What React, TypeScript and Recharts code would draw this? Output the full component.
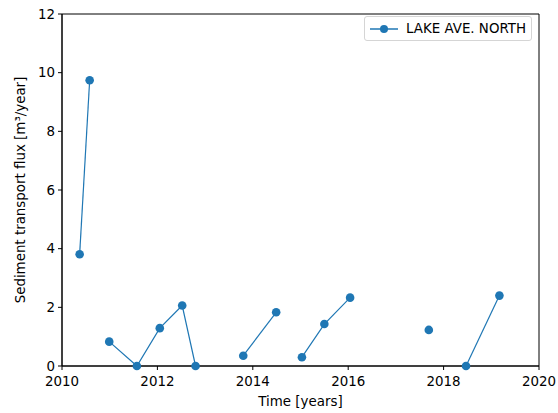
import React from 'react';
import { LineChart, Line, XAxis, YAxis, ReferenceArea } from 'recharts';

// each segment is a connected run of surveys; gaps between runs are not joined
const segmentYears = [
  [2010.37, 2010.58],
  [2010.99, 2011.57, 2012.05, 2012.52, 2012.8],
  [2013.8, 2014.49],
  [2015.03, 2015.5, 2016.04],
  [2017.69],
  [2018.47, 2019.17],
];
const segmentFlux = [
  [3.81, 9.74],
  [0.83, 0, 1.29, 2.06, 0],
  [0.35, 1.83],
  [0.3, 1.43, 2.33],
  [1.23],
  [0, 2.4],
];
const xTicks = [2010, 2012, 2014, 2016, 2018, 2020];
const yTicks = [0, 2, 4, 6, 8, 10, 12];
const seriesName = 'LAKE AVE. NORTH';

const BLUE = '#1f77b4';
const FONT = '"DejaVu Sans", sans-serif';
const FS = 13.4;

const LegendBox = () => (
  <div
    style={{
      position: 'absolute', left: 364, top: 16,
      display: 'flex', alignItems: 'center', boxSizing: 'border-box',
      width: 168, height: 25, border: '1px solid #d5d5d5', borderRadius: 3,
      background: '#fff', fontFamily: FONT, fontSize: FS, color: '#000',
    }}
  >
    <svg width={37} height={12} style={{ marginLeft: 4 }}>
      <line x1={1} y1={6} x2={29} y2={6} stroke={BLUE} strokeWidth={1.5} />
      <circle cx={15} cy={6} r={4} fill={BLUE} />
    </svg>
    <span style={{ whiteSpace: 'nowrap' }}>{seriesName}</span>
  </div>
);

export default function App() {
  const segments = segmentYears.map((ys, i) =>
    ys.map((x, j) => ({ x, flux: segmentFlux[i][j] }))
  );

  return (
    <div style={{ position: 'absolute', left: 0, top: 0, width: 558, height: 413, background: '#fff' }}>
      <LineChart width={558} height={413} margin={{ top: 14, right: 19, left: 18, bottom: 4 }}>
        <XAxis
          dataKey="x"
          type="number"
          domain={[2010, 2020]}
          ticks={xTicks}
          allowDuplicatedCategory={false}
          height={43}
          tickSize={4}
          tickMargin={6}
          stroke="#000"
          tick={{ fontSize: FS, fill: '#000', fontFamily: FONT }}
          label={{ value: 'Time [years]', position: 'insideBottom', offset: 3, fontSize: FS, fill: '#000', fontFamily: FONT }}
        />
        <YAxis
          dataKey="flux"
          type="number"
          domain={[0, 12]}
          ticks={yTicks}
          width={44}
          tickSize={4}
          tickMargin={3}
          stroke="#000"
          tick={{ fontSize: FS, fill: '#000', fontFamily: FONT }}
          label={{ value: 'Sediment transport flux [m³/year]', angle: -90, position: 'center', dx: -20, fontSize: FS, fill: '#000', fontFamily: FONT }}
        />
        <ReferenceArea x1={2010} x2={2020} y1={0} y2={12} fill="none" stroke="#000" strokeWidth={1} />
        {segments.map((seg, i) => (
          <Line
            key={i}
            data={seg}
            dataKey="flux"
            name={seriesName}
            stroke={BLUE}
            strokeWidth={1.2}
            dot={{ r: 4.3, fill: BLUE, stroke: BLUE, strokeWidth: 0 }}
            activeDot={false}
            isAnimationActive={false}
          />
        ))}
      </LineChart>
      <LegendBox />
    </div>
  );
}
